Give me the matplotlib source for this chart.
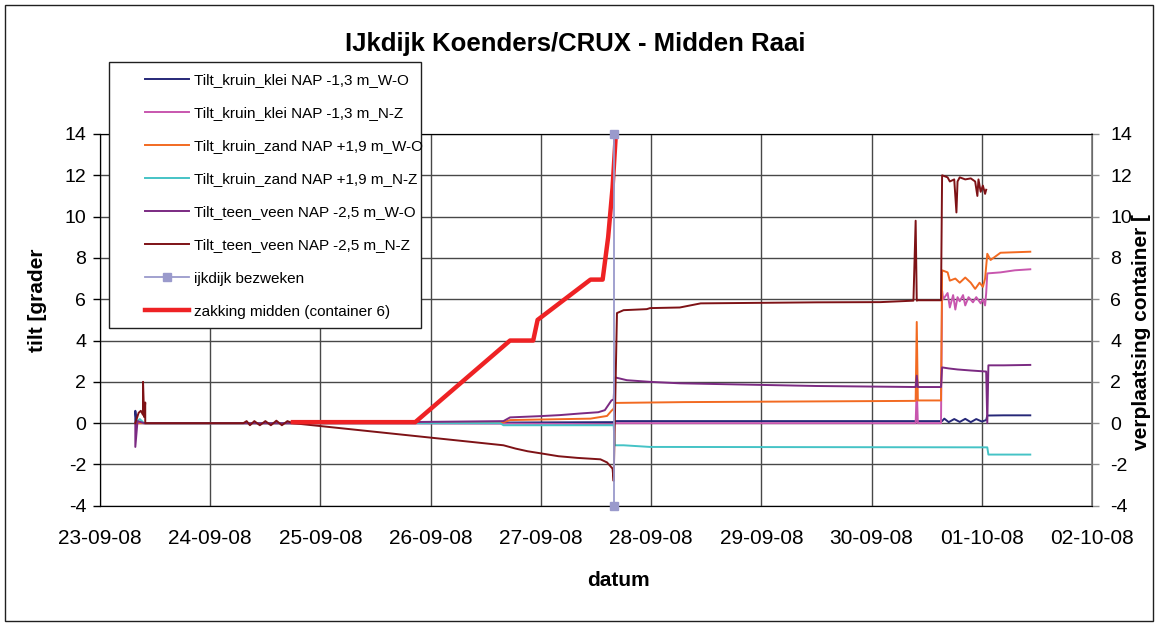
import matplotlib
matplotlib.use("Agg")
import matplotlib.pyplot as plt
import matplotlib.dates as mdates
from matplotlib.patches import Rectangle
import numpy as np
import pandas as pd

plt.rcParams["font.family"] = ["Liberation Sans", "DejaVu Sans"]
plt.rcParams["axes.unicode_minus"] = False

# time axis: days since 23-09-08 00:00
START = "2008-09-23"
END = "2008-10-02"

# Tilt_kruin_klei NAP -1,3 m_W-O
navy_d = [0.32, 0.32, 0.33, 0.40, 1.75, 3.65, 4.66, 4.67, 7.40, 7.64, 7.66,
          7.70, 7.75, 7.80, 7.85, 7.90, 7.95, 8.00, 8.04, 8.05, 8.20, 8.44]
navy_v = [0.0, 0.6, 0.05, 0.0, 0.0, 0.03, 0.05, 0.10, 0.10, 0.10, 0.22,
          0.05, 0.20, 0.06, 0.21, 0.05, 0.20, 0.08, 0.15, 0.37, 0.38, 0.38]

# Tilt_kruin_klei NAP -1,3 m_N-Z
pink_d = [0.32, 0.40, 1.75, 3.65, 4.66, 4.67, 7.40, 7.41, 7.42, 7.63, 7.64,
          7.65, 7.69, 7.71, 7.74, 7.76, 7.78, 7.80, 7.83, 7.85, 7.88, 7.92,
          7.95, 7.99, 8.01, 8.03, 8.04, 8.05, 8.17, 8.30, 8.44]
pink_v = [0.0, 0.0, 0.0, -0.02, -0.05, 0.0, 0.0, 1.7, 0.0, 0.0, 6.4,
          6.0, 6.3, 5.6, 6.2, 5.5, 6.1, 5.9, 6.2, 5.7, 6.1, 5.85,
          6.1, 5.8, 6.0, 5.7, 6.3, 7.25, 7.3, 7.4, 7.45]

# Tilt_kruin_zand NAP +1,9 m_W-O
orange_d = [0.32, 0.40, 1.75, 3.65, 3.72, 4.45, 4.60, 4.64, 4.66, 4.67, 5.30,
            7.40, 7.41, 7.42, 7.63, 7.64, 7.69, 7.71, 7.76, 7.80, 7.85, 7.90,
            7.94, 7.98, 8.01, 8.03, 8.04, 8.05, 8.08, 8.17, 8.44]
orange_v = [0.0, 0.0, 0.0, 0.03, 0.15, 0.22, 0.35, 0.6, 0.7, 0.98, 1.02,
            1.08, 4.9, 1.1, 1.1, 7.4, 7.3, 6.9, 7.0, 6.8, 7.05, 6.8,
            6.5, 6.8, 6.6, 7.0, 7.6, 8.2, 7.9, 8.25, 8.3]

# Tilt_kruin_zand NAP +1,9 m_N-Z
cyan_d = [0.32, 0.36, 0.40, 1.75, 3.63, 3.66, 4.66, 4.67, 4.75, 4.99, 8.05, 8.06, 8.44]
cyan_v = [0.0, 0.2, 0.0, 0.0, 0.0, -0.1, -0.1, -1.07, -1.07, -1.15, -1.17, -1.52, -1.52]

# Tilt_teen_veen NAP -2,5 m_W-O
purple_d = [0.32, 0.32, 0.34, 0.40, 1.75, 3.66, 3.72, 3.99, 4.17, 4.36, 4.52,
            4.58, 4.64, 4.66, 4.67, 4.78, 4.99, 5.26, 6.50, 7.40, 7.41, 7.42,
            7.63, 7.64, 7.70, 7.78, 7.90, 8.04, 8.05, 8.06, 8.20, 8.44]
purple_v = [0.0, -1.15, 0.1, 0.0, 0.0, 0.1, 0.28, 0.34, 0.39, 0.47, 0.53,
            0.63, 1.1, 1.15, 2.22, 2.08, 2.0, 1.93, 1.8, 1.75, 2.3, 1.75,
            1.75, 2.7, 2.65, 2.6, 2.55, 2.5, 0.0, 2.8, 2.8, 2.82]

# Tilt_teen_veen NAP -2,5 m_N-Z
dred_d = [0.32, 0.35, 0.37, 0.39, 0.39, 0.40, 0.41, 0.41, 0.43, 1.30,
          1.33, 1.36, 1.40, 1.45, 1.50, 1.55, 1.60, 1.65, 1.70, 1.75,
          3.66, 3.77, 3.88, 4.01, 4.16, 4.33, 4.54, 4.60, 4.65, 4.66,
          4.69, 4.75, 4.96, 4.99, 5.26, 5.45, 6.50, 7.08, 7.38, 7.40,
          7.41, 7.42, 7.63, 7.64, 7.69, 7.71, 7.75, 7.77, 7.78, 7.80,
          7.85, 7.90, 7.94, 7.96, 7.97, 7.99, 8.01, 8.03, 8.04]
dred_v = [0.0, 0.5, 0.6, 0.4, 2.0, 0.3, 1.0, 0.0, 0.0, 0.0,
          0.1, -0.1, 0.1, -0.1, 0.1, -0.1, 0.12, -0.1, 0.1, 0.0,
          -1.07, -1.23, -1.36, -1.47, -1.6, -1.68, -1.75, -1.9, -2.2, -2.8,
          5.33, 5.47, 5.52, 5.57, 5.6, 5.8, 5.85, 5.86, 5.93, 9.8,
          5.93, 5.95, 5.95, 12.0, 11.9, 11.7, 11.8, 10.2, 11.7, 11.9,
          11.8, 11.85, 11.7, 11.0, 11.8, 11.2, 11.5, 11.1, 11.3]

# secondary axis: ijkdijk bezweken + zakking midden (container 6)
fail_d = [4.66, 4.66]
fail_v = [14.0, -4.0]
zak_d = [1.75, 2.86, 3.72, 3.93, 3.97, 4.45, 4.56, 4.61, 4.65, 4.68]
zak_v = [0.05, 0.05, 4.0, 4.0, 5.0, 6.95, 6.95, 9.0, 11.4, 14.0]

tilt_series = [
    ("Tilt_kruin_klei NAP -1,3 m_W-O", navy_d, navy_v, "#262878"),
    ("Tilt_kruin_klei NAP -1,3 m_N-Z", pink_d, pink_v, "#C856AE"),
    ("Tilt_kruin_zand NAP +1,9 m_W-O", orange_d, orange_v, "#F26A21"),
    ("Tilt_kruin_zand NAP +1,9 m_N-Z", cyan_d, cyan_v, "#45C3C6"),
    ("Tilt_teen_veen NAP -2,5 m_W-O", purple_d, purple_v, "#7B2A82"),
    ("Tilt_teen_veen NAP -2,5 m_N-Z", dred_d, dred_v, "#7E1216"),
]


def to_time(days):
    return pd.Timestamp(START) + pd.to_timedelta(np.asarray(days), unit="D")


fig = plt.figure(figsize=(11.58, 6.26), dpi=100)
ax = fig.add_axes([0.0864, 0.192, 0.8566, 0.594])
ax2 = ax.twinx()

handles = []
for label, d, v, c in tilt_series:
    ln, = ax.plot(to_time(d), v, color=c, lw=1.4, label=label)
    handles.append(ln)

ln_fail, = ax2.plot(to_time(fail_d), fail_v, color="#9A9ACC", lw=1.3,
                    marker="s", markersize=6, clip_on=False, zorder=5,
                    label="ijkdijk bezweken")
ln_zak, = ax2.plot(to_time(zak_d), zak_v, color="#EE2224", lw=3.2,
                   label="zakking midden (container 6)")
handles += [ln_fail, ln_zak]

for a in (ax, ax2):
    a.set_ylim(-4, 14)
    a.set_yticks(np.arange(-4, 15, 2))
ax.set_xlim(pd.Timestamp(START), pd.Timestamp(END))
ax.xaxis.set_major_locator(mdates.DayLocator())
ax.xaxis.set_major_formatter(mdates.DateFormatter("%d-%m-%y"))

ax.grid(True, color="#484848", lw=1.0)
ax.set_axisbelow(True)
ax.tick_params(axis="x", length=0, pad=17, labelsize=15)
ax.tick_params(axis="y", direction="out", length=5, width=1, pad=5, labelsize=14)
ax2.tick_params(axis="y", direction="out", length=5, width=1, pad=8,
                labelsize=14, color="#909090")
for s in ("left", "bottom", "top"):
    ax.spines[s].set_color("#202020")
ax2.spines["right"].set_color("#808080")
ax2.spines["right"].set_linewidth(1.2)

fig.text(0.497, 0.930, "IJkdijk Koenders/CRUX - Midden Raai", ha="center",
         va="center", fontsize=18.5, fontweight="bold")
fig.text(0.534, 0.073, "datum", ha="center", va="center", fontsize=15,
         fontweight="bold")
fig.text(0.032, 0.521, "tilt [grader", ha="center", va="center", rotation=90,
         fontsize=15, fontweight="bold")
fig.text(0.986, 0.470, "verplaatsing container [", ha="center", va="center",
         rotation=90, fontsize=15, fontweight="bold")

# legend box and entries
fig.patches.append(Rectangle((109 / 1158, 1 - 328 / 626), 312 / 1158, 266 / 626,
                             transform=fig.transFigure, facecolor="white",
                             edgecolor="#202020", lw=1.0, zorder=3))
fig.legend(handles, [h.get_label() for h in handles], loc="upper left",
           bbox_to_anchor=(145 / 1158, 1 - 73 / 626), frameon=False,
           borderpad=0, borderaxespad=0, fontsize=11, handlelength=2.9,
           handletextpad=0.3, labelspacing=1.25)

# outer chart border
fig.patches.append(Rectangle((5 / 1158, 5 / 626), 1148 / 1158, 616 / 626,
                             transform=fig.transFigure, fill=False,
                             edgecolor="#202020", lw=1.0, zorder=2))

fig.savefig("out.png", dpi=100)
